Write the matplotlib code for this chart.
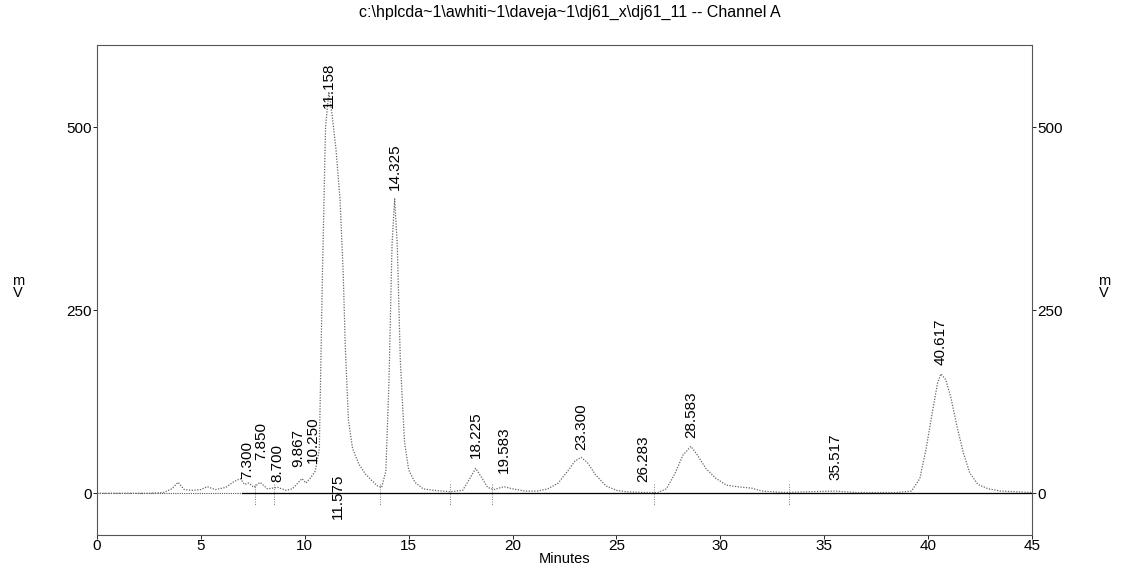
import numpy as np
import matplotlib
matplotlib.use('Agg')
import matplotlib.pyplot as plt

plt.rcParams['font.family'] = ['Liberation Sans', 'DejaVu Sans']

# detector trace (minutes, mV)
t_min = [0, 2.5, 3.2, 3.6, 3.9, 4.2, 4.6, 5.0, 5.3, 5.7, 6.2, 6.6, 6.9, 7.1, 7.3,
         7.55, 7.85, 8.2, 8.7, 9.1, 9.4, 9.867, 10.05, 10.25, 10.5, 10.7, 10.85,
         11.0, 11.158, 11.3, 11.5, 11.7, 11.85, 11.95, 12.1, 12.3, 12.6, 12.9,
         13.2, 13.5, 13.7, 13.9, 14.05, 14.2, 14.325, 14.45, 14.6, 14.8, 15.0,
         15.3, 15.7, 16.2, 17.0, 17.6, 17.9, 18.225, 18.5, 18.8, 19.1, 19.583,
         20.0, 20.6, 21.2, 21.7, 22.2, 22.7, 23.0, 23.3, 23.6, 24.0, 24.5, 25.0,
         25.5, 26.283, 27.0, 27.4, 27.8, 28.2, 28.583, 28.9, 29.3, 29.8, 30.3,
         30.8, 31.5, 32.0, 33.0, 35.517, 36.5, 38.5, 39.2, 39.6, 39.9, 40.2,
         40.45, 40.617, 40.85, 41.1, 41.4, 41.7, 42.0, 42.4, 42.9, 43.5, 45.0]
signal_mv = [0, 0, 1, 6, 15, 5, 4, 5, 9, 5, 8, 16, 20, 12, 14,
             8, 15, 6, 8, 4, 6, 20, 14, 20, 30, 60, 300,
             500, 548, 520, 470, 400, 300, 200, 100, 61, 40, 27,
             18, 10, 8, 30, 150, 340, 402, 340, 180, 70, 32,
             15, 6, 4, 2, 4, 18, 34, 22, 8, 5, 9,
             6, 3, 3, 6, 14, 32, 44, 49, 42, 25, 10, 4,
             2, 1, 1, 6, 26, 52, 64, 52, 34, 20, 11,
             9, 7, 3, 1, 3, 1, 1, 3, 20, 60, 110,
             150, 163, 155, 130, 90, 55, 28, 12, 6, 3, 1]

# integrator peak labels: retention time, label anchor (mV)
peak_rt = ['7.300', '7.850', '8.700', '9.867', '10.250', '11.158', '11.575',
           '14.325', '18.225', '19.583', '23.300', '26.283', '28.583',
           '35.517', '40.617']
label_mv = [20, 45, 15, 36, 41, 526, 27, 414, 48, 27, 59, 15, 75, 18, 175]
# small sideways nudges where labels crowd (minutes)
label_dx = {'9.867': -0.2, '10.250': 0.12, '7.300': -0.05, '7.850': 0.05}

# event marks below the baseline
event_t = [7.6, 8.5, 13.6, 17.0, 19.0, 26.8, 33.3]

fig = plt.figure(figsize=(11.22, 5.66), dpi=100)
ax = fig.add_axes([97 / 1122, 31 / 566, 935 / 1122, 490 / 566])

ax.axhline(0, color='#555555', lw=0.8, ls=(0, (1, 1)))
ax.plot([7.0, 45], [0, 0], color='black', lw=0.9)
ax.plot(t_min, signal_mv, color='#666666', lw=0.9, ls=(0, (1, 1.2)))

for t in event_t:
    ax.plot([t, t], [12, -18], color='#777777', lw=0.7, ls=(0, (1, 1.5)))

for lab, y in zip(peak_rt, label_mv):
    ax.text(float(lab) + label_dx.get(lab, 0), y, lab, rotation=90, ha='center',
            va='top' if lab == '11.575' else 'bottom', fontsize=11)

ax.set_xlim(0, 45)
ax.set_ylim(-57, 612)
ax.set_xticks(np.arange(0, 46, 5))
ax.set_yticks([0, 250, 500])
ax.tick_params(direction='out', length=3, width=0.6, labelsize=11,
               right=True, labelright=True, pad=1)
ax.tick_params(axis='x', pad=0)
for s in ax.spines.values():
    s.set_linestyle((0, (1, 1)))
    s.set_color('#555555')
    s.set_linewidth(0.8)

fig.text(570 / 1122, 1 - 12 / 566,
         'c:\\hplcda~1\\awhiti~1\\daveja~1\\dj61_x\\dj61_11 -- Channel A',
         ha='center', va='center', fontsize=11.5)
fig.text(565 / 1122, 1 - 559 / 566, 'Minutes', ha='center', va='center', fontsize=10.5)
for xp in (18, 1104):
    fig.text(xp / 1122, 1 - 287 / 566, 'm\nV', ha='center', va='center',
             fontsize=10.5, linespacing=0.9)

fig.savefig('out.png', dpi=100)
